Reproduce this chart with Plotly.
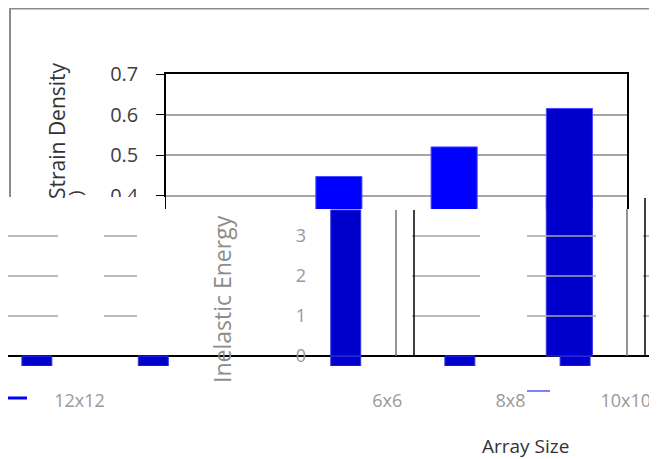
import plotly.graph_objs as go

# strain density chart (upper)
strain_sizes = ["4x4", "6x6", "8x8", "10x10"]
strain_density = [0.36, 0.447, 0.52, 0.615]
strain_colors = ["#0000FF", "#0000FF", "#0000FF", "#0000CC"]

# inelastic energy chart (lower, garbled copy)
neg_pos = [0.32, 1.33, 3.0, 3.99, 4.99]
neg_energy = [-0.25, -0.25, -0.25, -0.25, -0.25]
peak_pos = [3.0, 4.94]
peak_energy = [3.65, 6.2]
peak_width = [0.26, 0.40]
size_label_pos = [0.69, 3.36, 4.43, 5.43]
size_labels = ["12x12", "6x6", "8x8", "10x10"]

# page body has an 8px margin; the figure fills the rest of the window
OFF = 8
W, H = 657 - OFF, 459 - OFF


def px(x):
    return (x - OFF) / W


def py(y):
    return 1 - (y - OFF) / H


fig = go.Figure()
fig.add_trace(go.Bar(x=strain_sizes, y=strain_density, width=0.4,
    marker=dict(color=strain_colors, line=dict(color="#4A4AFF", width=1)),
    xaxis="x", yaxis="y", showlegend=False))
fig.add_trace(go.Bar(x=neg_pos, y=neg_energy, width=0.26,
    marker=dict(color="#0000CC", line=dict(color="#3333DD", width=1)),
    xaxis="x2", yaxis="y2", showlegend=False))
fig.add_trace(go.Bar(x=peak_pos, y=peak_energy, width=peak_width,
    marker=dict(color="#0000CC", line=dict(color="#3333DD", width=1)),
    xaxis="x2", yaxis="y2", showlegend=False))

grid = "#A6A6A6"
shapes = [
    dict(type="line", xref="paper", yref="paper", x0=px(10), x1=1, y0=py(8.5), y1=py(8.5),
         line=dict(color="#8C8C8C", width=2)),
    dict(type="line", xref="paper", yref="paper", x0=px(10), x1=px(10), y0=py(8), y1=py(197),
         line=dict(color="#8C8C8C", width=2)),
    dict(type="rect", xref="paper", yref="paper", x0=0, x1=px(165), y0=py(226), y1=py(197),
         fillcolor="white", line=dict(width=0), layer="above"),
]
for lvl in [1, 2, 3]:
    for a, b in [(8, 58), (104, 137), (412, 480), (527, 596), (643, 657)]:
        shapes.append(dict(type="line", xref="paper", yref="y2", x0=px(a), x1=px(b), y0=lvl, y1=lvl,
                           line=dict(color=grid, width=1.5)))
for xv, top, col in [(396, 210, "#707070"), (414, 210, "black"), (627, 209, "#707070"), (645, 198, "black")]:
    shapes.append(dict(type="line", xref="paper", yref="paper", x0=px(xv), x1=px(xv), y0=py(top), y1=py(356),
                       line=dict(color=col, width=1.5)))
shapes.append(dict(type="line", xref="paper", yref="paper", x0=px(8), x1=px(27), y0=py(398), y1=py(398),
                   line=dict(color="#0000FF", width=3)))
shapes.append(dict(type="line", xref="paper", yref="paper", x0=px(527), x1=px(550), y0=py(391), y1=py(391),
                   line=dict(color="#0000FF", width=1)))


def note(text, x, y, size, color, angle=0):
    return dict(text=text, x=px(x), y=py(y), xref="paper", yref="paper", textangle=angle,
                xanchor="center", yanchor="middle", showarrow=False,
                font=dict(size=size, color=color))


fig.update_layout(
    width=W, height=H, margin=dict(l=0, r=0, t=0, b=0, autoexpand=False),
    paper_bgcolor="white", plot_bgcolor="rgba(0,0,0,0)",
    barmode="overlay", font=dict(family="Open Sans", size=18, color="#404040"),
    xaxis=dict(domain=[px(166), px(627)], anchor="y", side="top", showline=True, linecolor="black",
               linewidth=1.5, showticklabels=False, ticks="", showgrid=False, automargin=False),
    yaxis=dict(domain=[py(209), py(74)], anchor="x", range=[0.3667, 0.7], tickvals=[0.4, 0.5, 0.6, 0.7],
               tickformat=".1f", ticks="outside", ticklen=8, tickcolor="black", showline=True,
               linecolor="black", linewidth=1.5, mirror=True, gridcolor=grid, gridwidth=1.5,
               zeroline=False, ticklabelstandoff=14, tickfont=dict(size=20, color="#404040"),
               automargin=False),
    xaxis2=dict(domain=[0, 1], anchor="y2", range=[OFF / 115.25, (OFF + W) / 115.25], tickvals=size_label_pos,
                ticktext=size_labels, showgrid=False, zeroline=False, showline=False, ticks="",
                ticklabelstandoff=22, tickfont=dict(size=18, color="#999999"), automargin=False),
    yaxis2=dict(domain=[py(366), py(195)], anchor="free", position=px(306), range=[-0.25, 4.025],
                tickvals=[0, 1, 2, 3], showgrid=False, showline=False, ticks="",
                zeroline=True, zerolinecolor="black", zerolinewidth=1.5,
                tickfont=dict(size=18, color="#999999"), automargin=False),
    shapes=shapes,
    annotations=[
        note("Strain Density", 57, 131, 21, "#333333", -90),
        note(")", 75, 193, 19, "#333333", -90),
        note("Inelastic Energy", 222, 299, 23, "#8C8C8C", -90),
        note("Array Size", 525, 446, 19, "#333333"),
    ],
)

fig.write_html("out.html")
